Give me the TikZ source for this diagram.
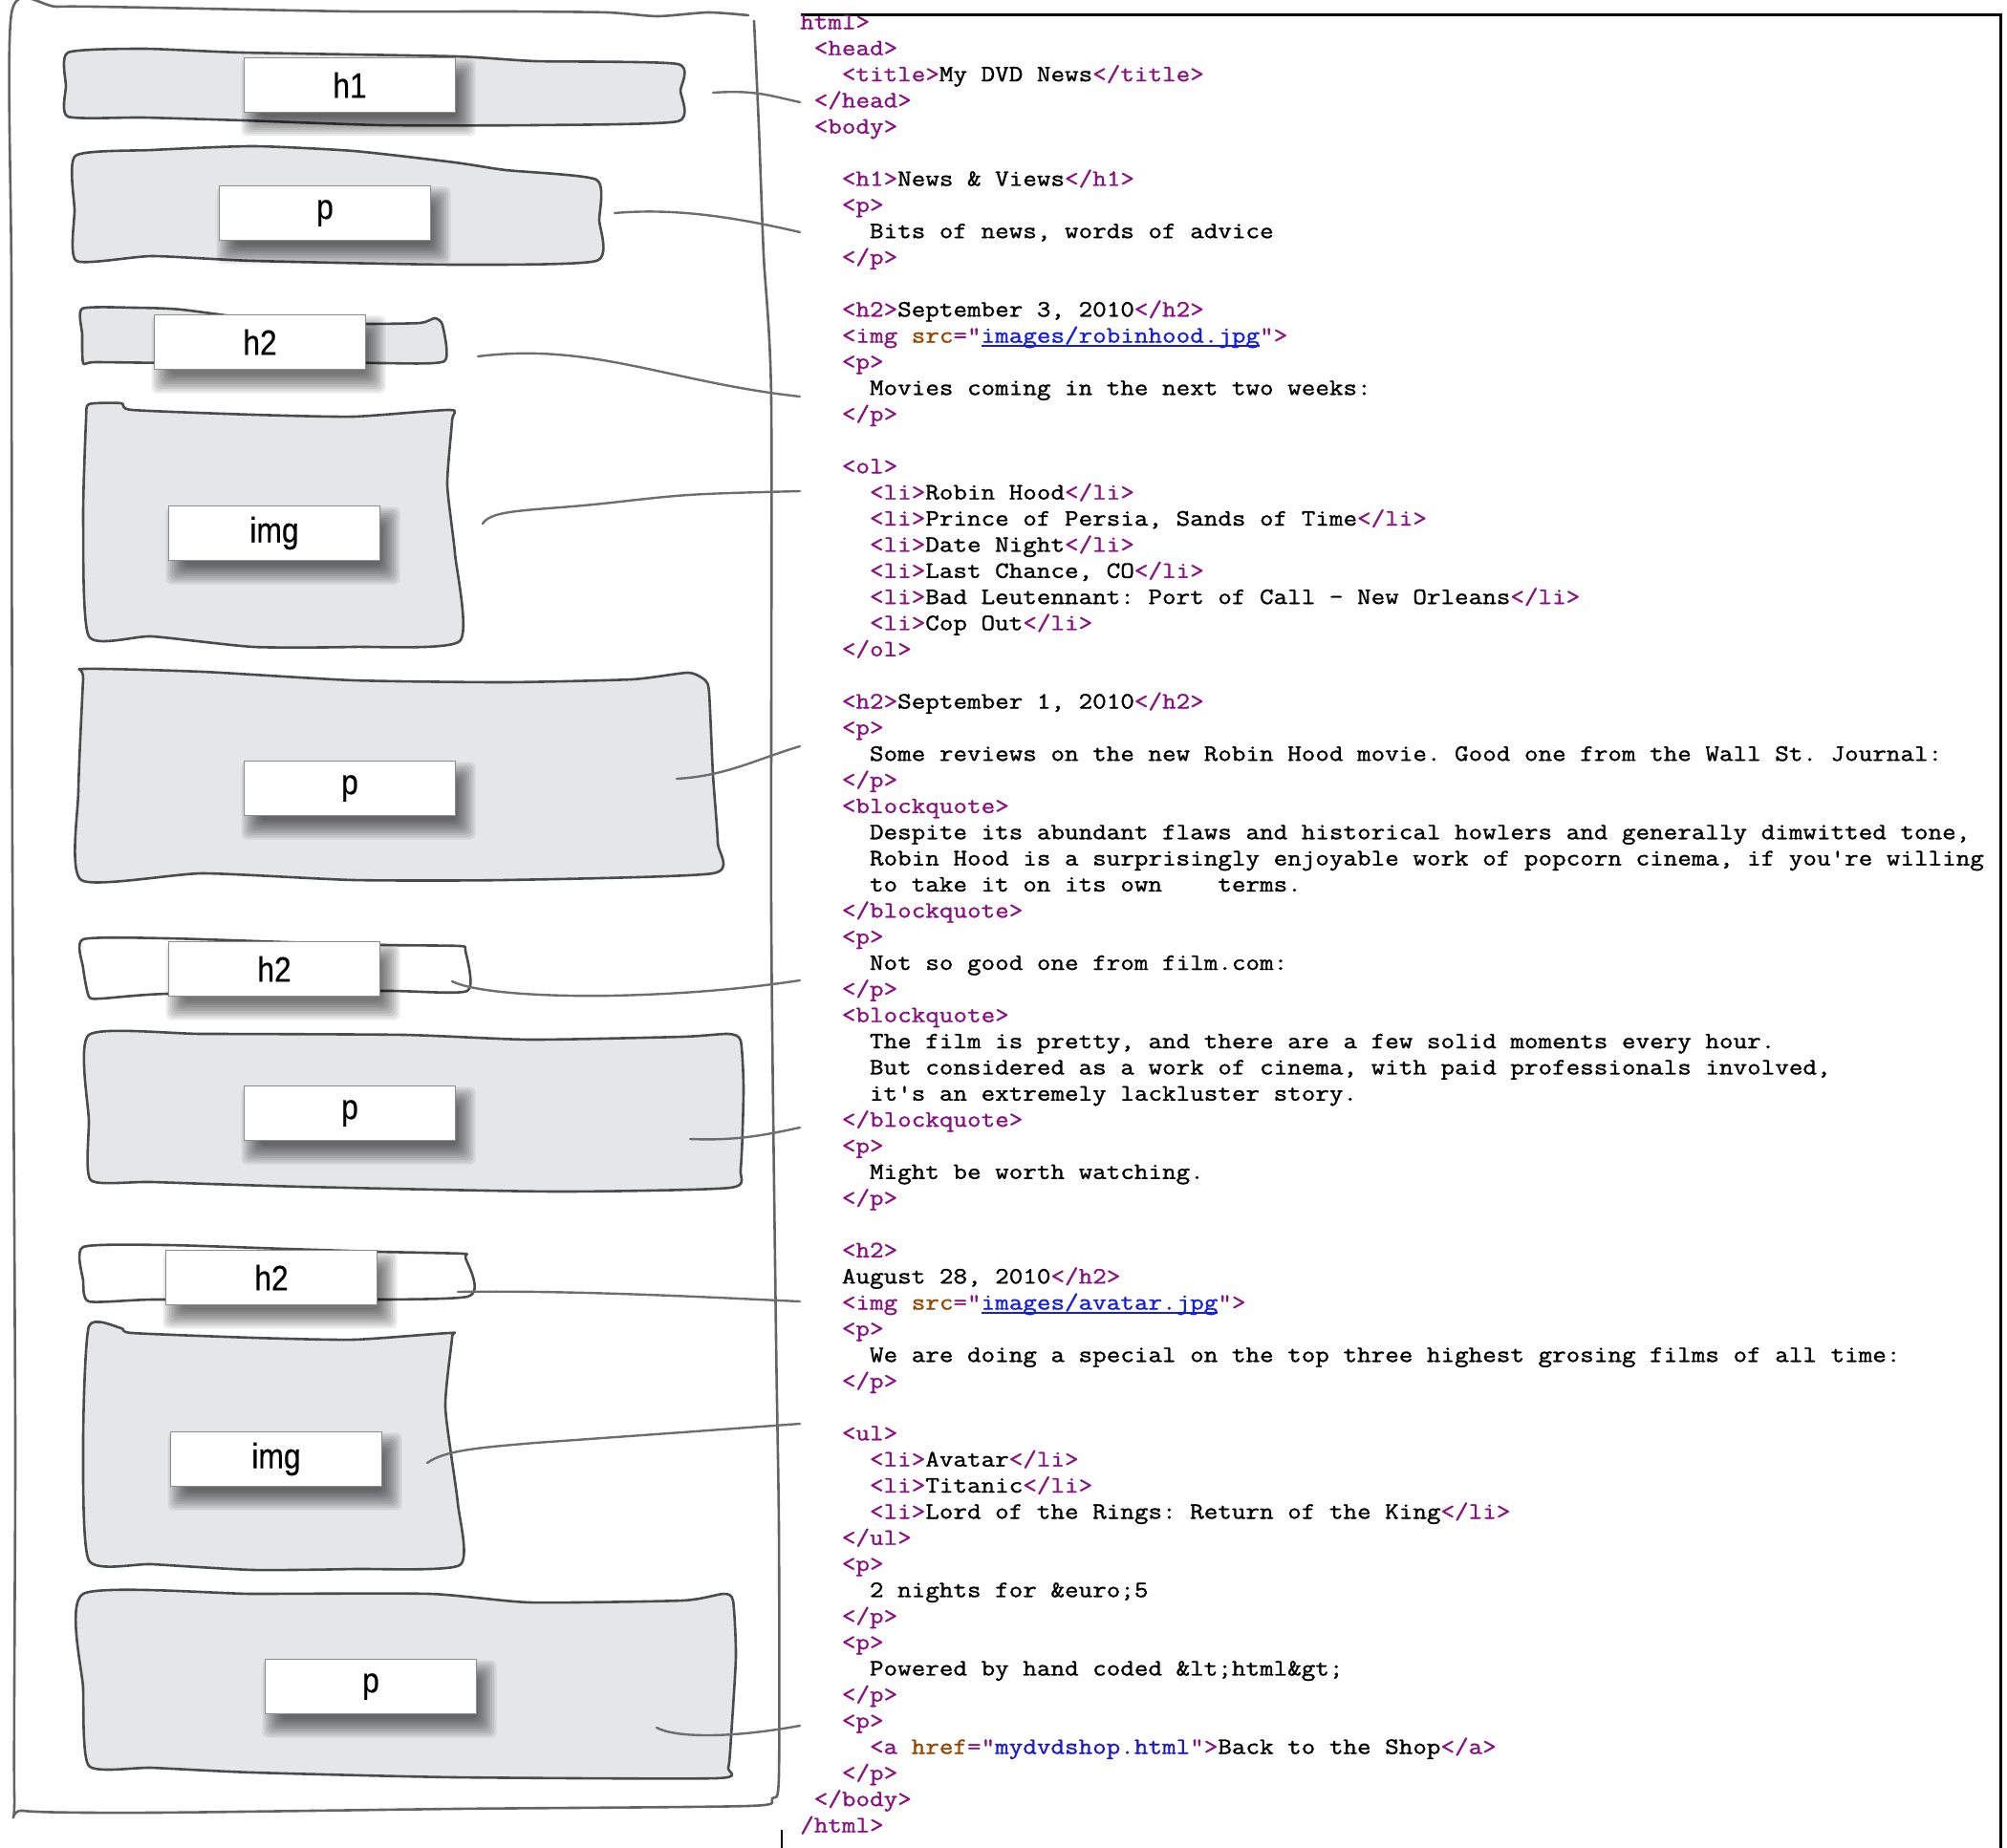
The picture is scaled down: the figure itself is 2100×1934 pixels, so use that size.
\documentclass[tikz,border=0pt]{standalone}
\usepackage{fontspec}
\setmonofont{Latin Modern Mono}[FakeStretch=1.155,FakeBold=1.2]
\newfontfamily\lblfam{Liberation Sans}[FakeStretch=0.86,FakeBold=0.4]
\definecolor{tagc}{RGB}{136,18,128}
\definecolor{attrc}{RGB}{153,69,0}
\definecolor{valc}{RGB}{26,26,200}
\definecolor{linkc}{RGB}{20,30,220}
\definecolor{sk}{RGB}{75,75,75}
\definecolor{blk}{RGB}{229,230,232}
\definecolor{cn}{RGB}{110,110,110}
\definecolor{outerc}{RGB}{100,100,100}
\definecolor{lblb}{RGB}{140,140,140}
\newcommand\Tg[1]{\textcolor{tagc}{#1}}
\newcommand\At[1]{\textcolor{attrc}{#1}}
\newcommand\Vl[1]{\textcolor{valc}{#1}}
\newcommand\Lk[1]{\textcolor{linkc}{\setbox0\hbox{#1}\rlap{\rule[-4pt]{\wd0}{1.6pt}}\box0}}
\newcommand\codefont{\ttfamily\fontsize{24.5}{27}\selectfont}
\newcommand\lblfont{\lblfam\fontsize{37}{40}\selectfont}
\newcommand\cln[3]{\node[codeline] (c#1) at ({837+14.56*#2},{30.4+27.35*#1}) {#3};}
\newcommand\lblnode[4]{%
  \foreach \k in {0,...,9}{%
    \pgfmathsetmacro\rr{12-2.2*\k}%
    \fill[shadowlayer] ({#2-110.5+9-\rr},{#3-28.5+13-\rr}) rectangle ({#2+110.5+9+\rr},{#3+28.5+13+\rr});}
  \node[lbl] (#1) at (#2,#3) {#4};}
\tikzset{
  block/.style={draw=sk, line width=2.6pt, fill=blk, line join=round},
  wblock/.style={block, fill=white},
  shadowlayer/.style={black, opacity=0.075, rounded corners=6pt},
  lbl/.style={draw=lblb, line width=1.8pt, fill=white, minimum width=221pt, minimum height=57pt, inner sep=0pt, font=\lblfont},
  conn/.style={draw=cn, line width=2.4pt, line cap=round},
  outerbox/.style={draw=outerc, line width=2.6pt, line cap=round, line join=round},
  codeline/.style={anchor=base west, inner sep=0pt, font=\codefont},
  frame/.style={draw=black, line width=3pt}
}
\begin{document}
\begin{tikzpicture}[x=1pt,y=-1pt]
\frenchspacing
\useasboundingbox (0,0) rectangle (2100,1934);
% ---------- blocks ----------
\filldraw[block] plot[smooth cycle, tension=0.35] coordinates {(71,55) (150,51) (254,55) (476,59) (560,64) (709,67) (712,95) (709,127) (560,131) (400,131) (254,126) (150,123) (71,122) (69,90)};
\filldraw[block] plot[smooth cycle, tension=0.35] coordinates {(79,163) (159,157) (265,153) (370,158) (476,170) (529,178) (624,188) (627,230) (624,273) (476,277) (265,273) (159,268) (80,273) (78,220)};
\filldraw[block] plot[smooth cycle, tension=0.35] coordinates {(86,323) (140,322) (190,324) (300,338) (384,339) (440,338) (455,333) (463,340) (465,378) (400,380) (300,378) (200,380) (100,379) (87,380) (86,350)};
\filldraw[block] plot[smooth cycle, tension=0.35] coordinates {(93,423) (127,422) (138,429) (265,434) (370,436) (471,429) (473,440) (468,507) (476,579) (481,671) (370,677) (265,677) (159,666) (93,666) (87,543) (90,440)};
\filldraw[block] plot[smooth cycle, tension=0.35] coordinates {(88,700) (212,703) (370,712) (529,714) (661,711) (720,704) (738,712) (742,725) (746,811) (751,882) (746,914) (529,921) (370,921) (212,914) (85,921) (82,828) (87,710)};
\filldraw[wblock] plot[smooth cycle, tension=0.35] coordinates {(87,983) (175,982) (300,986) (402,989) (481,990) (487,995) (489,1037) (402,1037) (175,1040) (106,1045) (93,1043) (87,1013)};
\filldraw[block] plot[smooth cycle, tension=0.35] coordinates {(93,1083) (212,1082) (423,1083) (555,1088) (714,1085) (762,1082) (775,1089) (778,1140) (775,1223) (764,1243) (582,1247) (317,1242) (159,1237) (95,1235) (93,1173)};
\filldraw[wblock] plot[smooth cycle, tension=0.35] coordinates {(87,1305) (175,1303) (300,1307) (397,1310) (484,1312) (487,1316) (489,1357) (300,1360) (159,1360) (93,1362) (87,1340)};
\filldraw[block] plot[smooth cycle, tension=0.35] coordinates {(93,1388) (127,1390) (138,1395) (265,1400) (370,1402) (471,1395) (473,1400) (466,1473) (479,1573) (481,1638) (370,1642) (265,1643) (159,1637) (93,1633) (87,1507)};
\filldraw[block] plot[smooth cycle, tension=0.35] coordinates {(87,1668) (265,1668) (450,1668) (555,1677) (714,1675) (757,1668) (767,1675) (770,1733) (765,1817) (762,1850) (750,1861) (476,1860) (265,1855) (159,1850) (93,1848) (87,1767)};
% ---------- labels ----------
\lblnode{l1}{366}{89}{h1}
\lblnode{l2}{340}{223}{p}
\lblnode{l3}{272}{358}{h2}
\lblnode{l4}{287}{558}{img}
\lblnode{l5}{366}{825}{p}
\lblnode{l6}{287}{1014}{h2}
\lblnode{l7}{366}{1165}{p}
\lblnode{l8}{284}{1337}{h2}
\lblnode{l9}{289}{1527}{img}
\lblnode{l10}{388}{1765}{p}
% ---------- outer container ----------
\draw[outerbox] plot[smooth, tension=0.4] coordinates {(789,22) (794,133) (799,267) (807,420) (807,960) (812,1400) (815,1600) (815,1858) (808,1882) (783,1890) (476,1893) (159,1897) (24,1895) (15,1878) (16,1500) (13,900) (12,300) (12,14) (60,7) (159,8) (370,12) (529,12) (635,13) (688,17) (741,13) (783,16)};
% ---------- code frame ----------
\coordinate (ftl) at (838,16);
\coordinate (ftr) at (2093,16);
\coordinate (fbr) at (2093,1934);
\draw[frame] (ftl) -- (ftr) -- (fbr);
\coordinate (st1) at (818,1915);
\coordinate (st2) at (818,1934);
\draw[line width=2pt] (st1) -- (st2);
% ---------- code ----------
\cln{0}{0}{\Tg{html>}}
\cln{1}{1}{\Tg{<head>}}
\cln{2}{3}{\Tg{<title>}My DVD News\Tg{</title>}}
\cln{3}{1}{\Tg{</head>}}
\cln{4}{1}{\Tg{<body>}}
\cln{6}{3}{\Tg{<h1>}News \& Views\Tg{</h1>}}
\cln{7}{3}{\Tg{<p>}}
\cln{8}{5}{Bits of news, words of advice}
\cln{9}{3}{\Tg{</p>}}
\cln{11}{3}{\Tg{<h2>}September 3, 2010\Tg{</h2>}}
\cln{12}{3}{\Tg{<img }\At{src}\Tg{="}\Lk{images/robinhood.jpg}\Tg{">}}
\cln{13}{3}{\Tg{<p>}}
\cln{14}{5}{Movies coming in the next two weeks:}
\cln{15}{3}{\Tg{</p>}}
\cln{17}{3}{\Tg{<ol>}}
\cln{18}{5}{\Tg{<li>}Robin Hood\Tg{</li>}}
\cln{19}{5}{\Tg{<li>}Prince of Persia, Sands of Time\Tg{</li>}}
\cln{20}{5}{\Tg{<li>}Date Night\Tg{</li>}}
\cln{21}{5}{\Tg{<li>}Last Chance, CO\Tg{</li>}}
\cln{22}{5}{\Tg{<li>}Bad Leutennant: Port of Call - New Orleans\Tg{</li>}}
\cln{23}{5}{\Tg{<li>}Cop Out\Tg{</li>}}
\cln{24}{3}{\Tg{</ol>}}
\cln{26}{3}{\Tg{<h2>}September 1, 2010\Tg{</h2>}}
\cln{27}{3}{\Tg{<p>}}
\cln{28}{5}{Some reviews on the new Robin Hood movie. Good one from the Wall St. Journal:}
\cln{29}{3}{\Tg{</p>}}
\cln{30}{3}{\Tg{<blockquote>}}
\cln{31}{5}{Despite its abundant flaws and historical howlers and generally dimwitted tone,}
\cln{32}{5}{Robin Hood is a surprisingly enjoyable work of popcorn cinema, if you're willing}
\cln{33}{5}{to take it on its own\ \ \ \ terms.}
\cln{34}{3}{\Tg{</blockquote>}}
\cln{35}{3}{\Tg{<p>}}
\cln{36}{5}{Not so good one from film.com:}
\cln{37}{3}{\Tg{</p>}}
\cln{38}{3}{\Tg{<blockquote>}}
\cln{39}{5}{The film is pretty, and there are a few solid moments every hour.}
\cln{40}{5}{But considered as a work of cinema, with paid professionals involved,}
\cln{41}{5}{it's an extremely lackluster story.}
\cln{42}{3}{\Tg{</blockquote>}}
\cln{43}{3}{\Tg{<p>}}
\cln{44}{5}{Might be worth watching.}
\cln{45}{3}{\Tg{</p>}}
\cln{47}{3}{\Tg{<h2>}}
\cln{48}{3}{August 28, 2010\Tg{</h2>}}
\cln{49}{3}{\Tg{<img }\At{src}\Tg{="}\Lk{images/avatar.jpg}\Tg{">}}
\cln{50}{3}{\Tg{<p>}}
\cln{51}{5}{We are doing a special on the top three highest grosing films of all time:}
\cln{52}{3}{\Tg{</p>}}
\cln{54}{3}{\Tg{<ul>}}
\cln{55}{5}{\Tg{<li>}Avatar\Tg{</li>}}
\cln{56}{5}{\Tg{<li>}Titanic\Tg{</li>}}
\cln{57}{5}{\Tg{<li>}Lord of the Rings: Return of the King\Tg{</li>}}
\cln{58}{3}{\Tg{</ul>}}
\cln{59}{3}{\Tg{<p>}}
\cln{60}{5}{2 nights for \&euro;5}
\cln{61}{3}{\Tg{</p>}}
\cln{62}{3}{\Tg{<p>}}
\cln{63}{5}{Powered by hand coded \&lt;html\&gt;}
\cln{64}{3}{\Tg{</p>}}
\cln{65}{3}{\Tg{<p>}}
\cln{66}{5}{\Tg{<a }\At{href}\Tg{="}\Vl{mydvdshop.html}\Tg{">}Back to the Shop\Tg{</a>}}
\cln{67}{3}{\Tg{</p>}}
\cln{68}{1}{\Tg{</body>}}
\cln{69}{0}{\Tg{/html>}}
% ---------- connectors ----------
\coordinate (s1) at (746,97);   \coordinate (e1) at (837,107);
\coordinate (s2) at (643,223);  \coordinate (e2) at (837,243);
\coordinate (s3) at (500,373);  \coordinate (e3) at (837,415);
\coordinate (s4) at (505,548);  \coordinate (e4) at (837,514);
\coordinate (s5) at (708,815);  \coordinate (e5) at (837,781);
\coordinate (s6) at (473,1027); \coordinate (e6) at (837,1026);
\coordinate (s7) at (722,1192); \coordinate (e7) at (837,1180);
\coordinate (s8) at (479,1352); \coordinate (e8) at (837,1362);
\coordinate (s9) at (447,1531); \coordinate (e9) at (837,1490);
\coordinate (s10) at (687,1808); \coordinate (e10) at (837,1806);
\draw[conn] (s1) .. controls (790,94) and (805,100) .. (e1);
\draw[conn] (s2) .. controls (700,218) and (760,225) .. (e2);
\draw[conn] (s3) .. controls (620,358) and (700,400) .. (e3);
\draw[conn] (s4) .. controls (515,532) and (560,535) .. (640,526) .. controls (720,517) .. (e4);
\draw[conn] (s5) .. controls (760,812) and (790,795) .. (e5);
\draw[conn] (s6) .. controls (500,1040) and (580,1043) .. (640,1042) .. controls (730,1040) and (790,1033) .. (e6);
\draw[conn] (s7) .. controls (770,1194) and (800,1188) .. (e7);
\draw[conn] (s8) .. controls (600,1350) and (750,1358) .. (e8);
\draw[conn] (s9) .. controls (465,1518) and (500,1515) .. (560,1510) .. controls (700,1500) .. (e9);
\draw[conn] (s10) .. controls (705,1818) and (760,1820) .. (e10);
\end{tikzpicture}
\end{document}
